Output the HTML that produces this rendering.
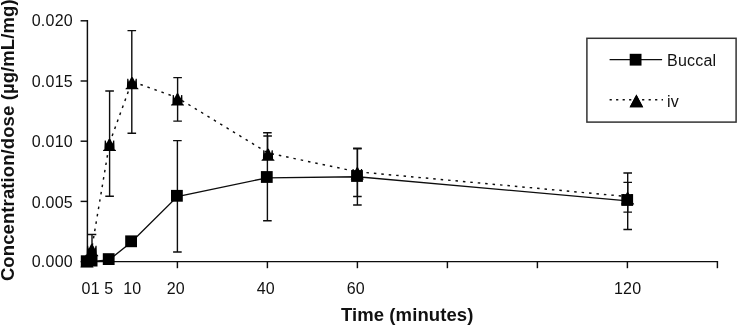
<!DOCTYPE html>
<html><head><meta charset="utf-8"><title>Concentration/dose vs time</title>
<style>html,body{margin:0;padding:0;background:#fff}svg{display:block}text{font-family:"Liberation Sans",Arial,sans-serif;fill:#111}.b{font-weight:bold;font-size:18.5px;letter-spacing:0.1px}.n{font-size:16px;letter-spacing:0.22px}</style></head><body>
<svg width="737" height="326" viewBox="0 0 737 326">
<rect width="737" height="326" fill="#fff"/>
<g stroke="#0d0d0d" fill="none" stroke-width="1.45">
<path d="M87.4 20.1V261.6H718.1"/>
<path d="M80.6 261.6H87.4"/>
<path d="M80.6 201.4H87.4"/>
<path d="M80.6 141.2H87.4"/>
<path d="M80.6 81.0H87.4"/>
<path d="M80.6 20.8H87.4"/>
<path d="M177.4 261.6V268.2"/>
<path d="M267.4 261.6V268.2"/>
<path d="M357.4 261.6V268.2"/>
<path d="M447.4 261.6V268.2"/>
<path d="M537.4 261.6V268.2"/>
<path d="M627.4 261.6V268.2"/>
<path d="M717.4 261.6V268.2"/>
</g>
<text class="n" x="72.9" y="267" text-anchor="end">0.000</text>
<text class="n" x="72.9" y="208" text-anchor="end">0.005</text>
<text class="n" x="72.9" y="147" text-anchor="end">0.010</text>
<text class="n" x="72.9" y="86.6" text-anchor="end">0.015</text>
<text class="n" x="72.9" y="26" text-anchor="end">0.020</text>
<text class="n" x="86.1" y="294" text-anchor="middle">0</text>
<text class="n" x="95.4" y="294" text-anchor="middle">1</text>
<text class="n" x="108.8" y="294" text-anchor="middle">5</text>
<text class="n" x="132.3" y="294" text-anchor="middle">10</text>
<text class="n" x="175.8" y="294" text-anchor="middle">20</text>
<text class="n" x="265.8" y="294" text-anchor="middle">40</text>
<text class="n" x="355.8" y="294" text-anchor="middle">60</text>
<text class="n" x="627.6" y="294" text-anchor="middle">120</text>
<text class="b" x="407.2" y="321" text-anchor="middle">Time (minutes)</text>
<text class="b" transform="translate(13.7 140.2) rotate(-90)" text-anchor="middle">Concentration/dose (µg/mL/mg)</text>
<g stroke="#0d0d0d" fill="none" stroke-width="1.4">
<path d="M177.4 140.6V252.0M173.1 140.6H181.7M173.1 252.0H181.7"/>
<path d="M267.4 132.8V220.8M263.1 132.8H271.7M263.1 220.8H271.7"/>
<path d="M357.4 148.9V205.0M353.1 148.9H361.7M353.1 205.0H361.7"/>
<path d="M627.7 182.4V229.5M623.4 182.4H632.0M623.4 229.5H632.0"/>
<path d="M92.0 234.5V250M87.7 234.5H96.3"/>
<path d="M109.6 91.0V196.2M105.3 91.0H113.9M105.3 196.2H113.9"/>
<path d="M131.8 30.6V133.3M127.5 30.6H136.1M127.5 133.3H136.1"/>
<path d="M177.6 77.6V121.1M173.3 77.6H181.9M173.3 121.1H181.9"/>
<path d="M267.6 136.0V160M263.3 136.0H271.9"/>
<path d="M357.4 148.3V196.5M353.1 148.3H361.7M353.1 196.5H361.7"/>
<path d="M627.7 173.0V212.1M623.4 173.0H632.0M623.4 212.1H632.0"/>
</g>
<polyline stroke="#0d0d0d" fill="none" stroke-width="1.35" points="87.1,262.0 92.0,261.4 109.1,259.9 131.5,242.1 177.3,196.6 267.2,177.8 357.4,176.8 627.6,200.8"/>
<polyline stroke="#0d0d0d" fill="none" stroke-width="1.45" stroke-dasharray="2.5 4.95" points="87.0,259.7 91.8,248.4 109.5,143.2 132.0,81.4 177.5,97.8 268.0,153.0 357.3,171.8 627.6,196.6"/>
<g fill="#000">
<rect x="80.8" y="255.3" width="11.8" height="11.8"/>
<rect x="85.7" y="254.7" width="11.8" height="11.8"/>
<rect x="102.8" y="253.2" width="11.8" height="11.8"/>
<rect x="125.2" y="235.4" width="11.8" height="11.8"/>
<rect x="171.0" y="189.9" width="11.8" height="11.8"/>
<rect x="260.9" y="171.1" width="11.8" height="11.8"/>
<rect x="351.1" y="170.1" width="11.8" height="11.8"/>
<rect x="621.3" y="194.1" width="11.8" height="11.8"/>
<path d="M80.4 267.5L80.8 266.5L81.9 265.7L82.2 257.0L83.3 257.0L83.9 260.1L86.2 255.5L87.8 255.5L90.1 260.1L90.7 257.0L91.8 257.0L92.1 265.7L93.2 266.5L93.6 267.5Z"/>
<path d="M85.2 256.2L85.6 255.2L86.7 254.4L87.0 245.7L88.1 245.7L88.7 248.8L91.0 244.2L92.6 244.2L94.9 248.8L95.5 245.7L96.6 245.7L96.9 254.4L98.0 255.2L98.4 256.2Z"/>
<path d="M102.9 151.0L103.3 150.0L104.4 149.2L104.7 140.5L105.8 140.5L106.4 143.6L108.7 139.0L110.3 139.0L112.6 143.6L113.2 140.5L114.3 140.5L114.6 149.2L115.7 150.0L116.1 151.0Z"/>
<path d="M125.4 89.2L125.8 88.2L126.9 87.4L127.2 78.7L128.3 78.7L128.9 81.8L131.2 77.2L132.8 77.2L135.1 81.8L135.7 78.7L136.8 78.7L137.1 87.4L138.2 88.2L138.6 89.2Z"/>
<path d="M170.9 105.6L171.3 104.6L172.4 103.8L172.7 95.1L173.8 95.1L174.4 98.2L176.7 93.6L178.3 93.6L180.6 98.2L181.2 95.1L182.3 95.1L182.6 103.8L183.7 104.6L184.1 105.6Z"/>
<path d="M261.4 160.8L261.8 159.8L262.9 159.0L263.2 150.3L264.3 150.3L264.9 153.4L267.2 148.8L268.8 148.8L271.1 153.4L271.7 150.3L272.8 150.3L273.1 159.0L274.2 159.8L274.6 160.8Z"/>
<path d="M350.7 179.6L351.1 178.6L352.2 177.8L352.5 169.1L353.6 169.1L354.2 172.2L356.5 167.6L358.1 167.6L360.4 172.2L361.0 169.1L362.1 169.1L362.4 177.8L363.5 178.6L363.9 179.6Z"/>
<path d="M621.0 204.4L621.4 203.4L622.5 202.6L622.8 193.9L623.9 193.9L624.5 197.0L626.8 192.4L628.4 192.4L630.7 197.0L631.3 193.9L632.4 193.9L632.7 202.6L633.8 203.4L634.2 204.4Z"/>
</g>
<rect x="586.9" y="38.3" width="149.2" height="83.8" stroke="#333" fill="none" stroke-width="1.5"/>
<path d="M609.6 59.7H662.1" stroke="#0d0d0d" fill="none" stroke-width="1.25"/>
<g fill="#000"><rect x="629.7" y="53.8" width="11.8" height="11.8"/><path d="M636.4 94.4L643.2 107.2H629.6Z"/></g>
<path d="M609.6 99.7H663" stroke="#0d0d0d" fill="none" stroke-width="1.5" stroke-dasharray="2.2 4.3"/>
<g fill="#000"><path d="M636.4 94.4L643.2 107.2H629.6Z"/></g>
<text class="n" x="667" y="66.2">Buccal</text>
<text class="n" x="667" y="106.5">iv</text>
</svg></body></html>
